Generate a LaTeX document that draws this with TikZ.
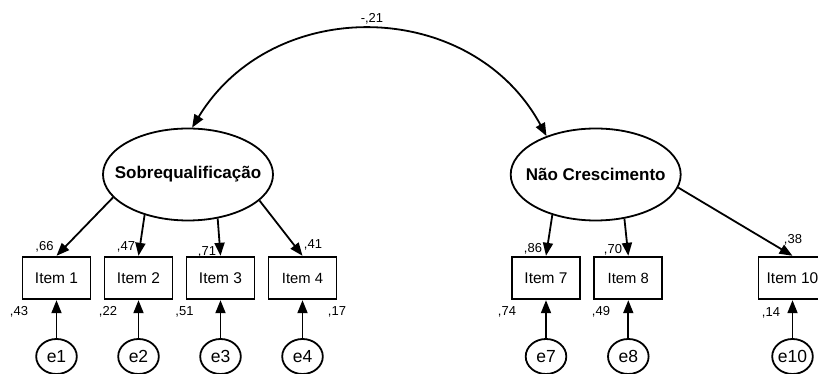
\documentclass[tikz,border=0pt]{standalone}
\usepackage{fontspec}
\setmainfont{Liberation Sans}
\usetikzlibrary{arrows.meta,shapes.geometric}
\tikzset{
  lat/.style={draw, ellipse, line width=1.8pt, minimum width=170pt, minimum height=92pt, inner sep=0pt, font=\fontsize{17}{20}\selectfont\bfseries},
  obs/.style={draw, rectangle, line width=1.8pt, minimum width=68pt, minimum height=42.6pt, inner sep=0pt, font=\fontsize{15.5}{18}\selectfont},
  obssmall/.style={obs, font=\fontsize{14.8}{17}\selectfont},
  err/.style={draw, ellipse, line width=1.8pt, minimum width=40.6pt, minimum height=35pt, inner sep=0pt, font=\fontsize{17.5}{20}\selectfont},
  num/.style={inner sep=0pt, font=\fontsize{13}{15}\selectfont},
  arr/.style={line width=1.8pt, -{Triangle[length=13pt,width=10pt]}},
  darr/.style={line width=1.8pt, {Triangle[length=13pt,width=10pt]}-{Triangle[length=13pt,width=10pt]}}
}
\begin{document}
\begin{tikzpicture}[x=1pt,y=1pt]
\useasboundingbox (0,0) rectangle (818,374);
% latent variables
\node[lat] (sobre) at (188,199.5) {\makebox[0pt]{Sobrequalificação}};
\node[lat] (nao) at (595.7,199.5) {\makebox[0pt]{Não Crescimento}};
% items
\node[obs] (i1) at (56.5,96) {Item 1};
\node[obs] (i2) at (138.5,96) {Item 2};
\node[obs] (i3) at (220.5,96) {Item 3};
\node[obssmall] (i4) at (302.5,96) {Item 4};
\node[obs] (i7) at (546,96) {Item 7};
\node[obssmall] (i8) at (628.3,96) {Item 8};
\node[obs] (i10) at (792.5,96) {Item 10};
% errors
\node[err] (e1) at (56.5,17.5) {\makebox[0pt]{e1}};
\node[err] (e2) at (138.5,17.5) {\makebox[0pt]{e2}};
\node[err] (e3) at (220.5,17.5) {\makebox[0pt]{e3}};
\node[err] (e4) at (302.5,17.5) {\makebox[0pt]{e4}};
\node[err] (e7) at (546,17.5) {\makebox[0pt]{e7}};
\node[err] (e8) at (628.3,17.5) {\makebox[0pt]{e8}};
\node[err] (e10) at (792.5,17.5) {\makebox[0pt]{e10}};
% covariance
\draw[darr] (sobre.85) to[out=58.7,in=118.4,looseness=1.13] (nao.142.5);
\node[num] (cov) at (372,355) {-,21};
% loadings
\draw[arr] (sobre.197) -- (i1.north);
\draw[arr] (sobre.223) -- (i2.north);
\draw[arr] (sobre.304) -- (i3.north);
\draw[arr] (sobre.340) -- (i4.north);
\draw[arr] (nao.223) -- (i7.north);
\draw[arr] (nao.303) -- (i8.north);
\draw[arr] (nao.351) -- (i10.north);
% errors to items
\foreach \e/\i in {e1/i1,e2/i2,e3/i3,e4/i4,e7/i7,e8/i8,e10/i10}
  \draw[arr] (\e.north) -- (\i.south);
% loading labels
\node[num] (l1) at (44.5,127) {,66};
\node[num] (l2) at (126,127) {,47};
\node[num] (l3) at (207,122) {,71};
\node[num] (l4) at (313,129) {,41};
\node[num] (l7) at (533,125) {,86};
\node[num] (l8) at (613,124) {,70};
\node[num] (l10) at (793,134) {,38};
% squared multiple correlations
\node[num] (r1) at (19,62) {,43};
\node[num] (r2) at (108,62) {,22};
\node[num] (r3) at (184.5,62) {,51};
\node[num] (r4) at (337,62) {,17};
\node[num] (r7) at (507,62) {,74};
\node[num] (r8) at (601,62) {,49};
\node[num] (r10) at (771,61.5) {,14};
\end{tikzpicture}
\end{document}
